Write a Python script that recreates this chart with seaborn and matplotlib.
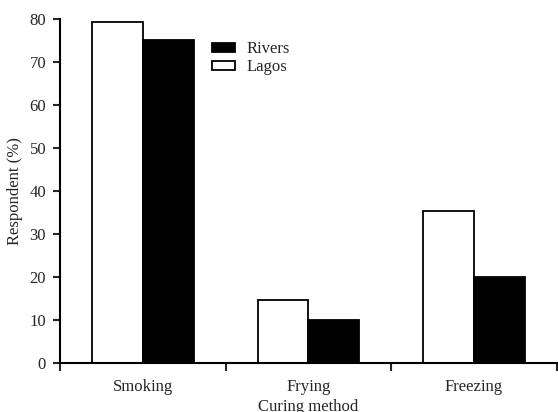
import matplotlib
matplotlib.use("Agg")
import matplotlib.pyplot as plt
import seaborn as sns
import pandas as pd

methods = ["Smoking", "Frying", "Freezing"]
lagos = [79.3, 14.6, 35.4]
rivers = [75.0, 10.0, 20.1]
yticks = [0, 10, 20, 30, 40, 50, 60, 70, 80]

df = pd.DataFrame({
    "method": methods * 2,
    "state": ["Lagos"] * 3 + ["Rivers"] * 3,
    "value": lagos + rivers,
})

sns.set_theme(style="ticks")
plt.rcParams["font.family"] = ["Liberation Serif", "DejaVu Serif"]

fig = plt.figure(figsize=(5.58, 4.12), dpi=100)
ax = fig.add_axes([0.1075, 0.1182, 0.8905, 0.8358])

sns.barplot(data=df, x="method", y="value", hue="state",
            hue_order=["Lagos", "Rivers"], order=methods,
            palette={"Lagos": "white", "Rivers": "black"},
            edgecolor="black", linewidth=1.3, width=0.615, gap=0,
            errorbar=None, ax=ax)

ax.set_xlim(-0.5, 2.5)
ax.set_ylim(0, 80)
ax.set_yticks(yticks)
ax.set_yticklabels([str(t) for t in yticks], fontsize=12)
ax.set_xticks([0, 1, 2])
ax.set_xticklabels(methods, fontsize=12)
ax.tick_params(axis="x", length=0, pad=11)
ax.set_xticks([-0.5, 0.5, 1.5, 2.5], minor=True)
ax.tick_params(axis="x", which="minor", length=6, width=1.5, direction="out")
ax.tick_params(axis="y", length=5, width=1.5, direction="out", pad=5)

for side in ["top", "right"]:
    ax.spines[side].set_visible(False)
for side in ["left", "bottom"]:
    ax.spines[side].set_linewidth(1.5)
    ax.spines[side].set_color("black")

ax.set_xlabel("Curing method", fontsize=12, labelpad=3.5)
ax.set_ylabel("Respondent (%)", fontsize=12, labelpad=4.5)

handles, labels = ax.get_legend_handles_labels()
order = [labels.index("Rivers"), labels.index("Lagos")]
ax.legend([handles[i] for i in order], [labels[i] for i in order],
          loc="upper left", bbox_to_anchor=(0.306, 0.935), frameon=False,
          fontsize=12, handlelength=1.4, handleheight=0.45,
          handletextpad=0.65, labelspacing=0.1, borderaxespad=0,
          borderpad=0)

fig.savefig("out.png", dpi=100)
